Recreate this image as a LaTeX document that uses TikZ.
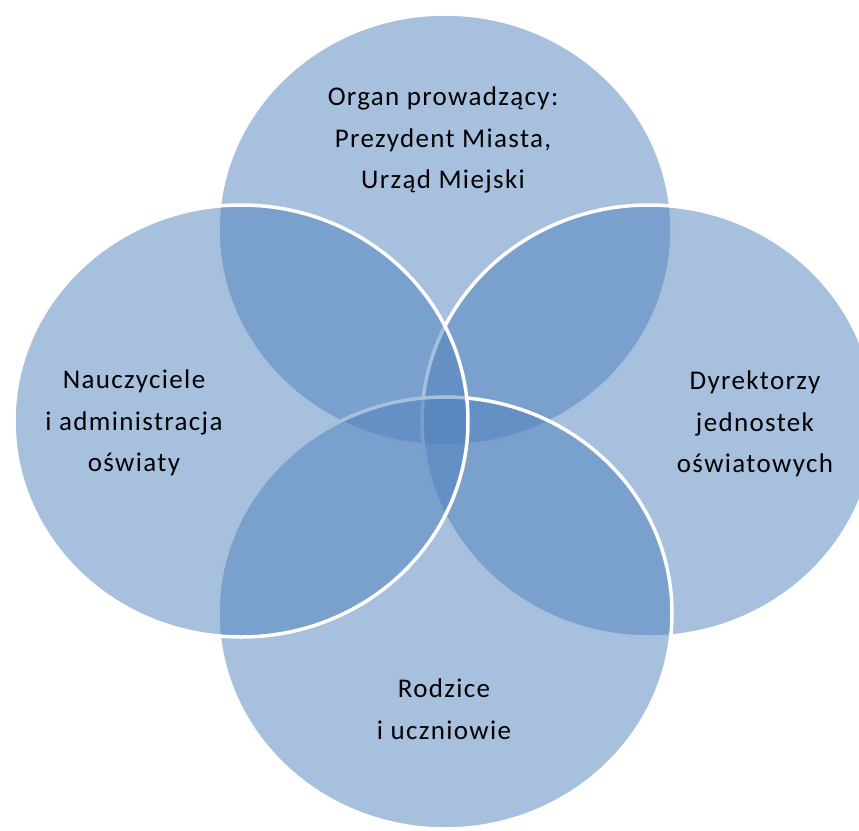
\documentclass[tikz,border=0pt]{standalone}
\usepackage{fontspec}
\setmainfont{Carlito}[LetterSpace=5]
\usetikzlibrary{shapes.geometric}
\definecolor{accent}{HTML}{4F81BD}
\tikzset{
  venn/.style={ellipse, minimum width=454pt, minimum height=432pt, inner sep=0pt,
    fill=accent, fill opacity=0.5, draw=white, line width=3.5pt},
  label/.style={align=center, text=black, inner sep=0pt,
    font=\fontsize{27}{41.5}\selectfont}
}
\begin{document}
\begin{tikzpicture}[x=1pt,y=-1pt]
\useasboundingbox (0,0) rectangle (859,830);
\clip (0,0) rectangle (859,830);
\node[venn] (top) at (445,230) {};
\node[venn] (right) at (649,421) {};
\node[venn] (bottom) at (445,613) {};
\node[venn] (left) at (241,421) {};
\node[label] (ttop) at (443,140) {Organ prowadzący:\\Prezydent Miasta,\\Urząd Miejski};
\node[label] (tleft) at (134,423) {Nauczyciele\\i administracja\\oświaty};
\node[label] (tright) at (755,424) {Dyrektorzy\\jednostek\\oświatowych};
\node[label] (tbottom) at (444,709) {Rodzice\\i uczniowie};
\end{tikzpicture}
\end{document}
